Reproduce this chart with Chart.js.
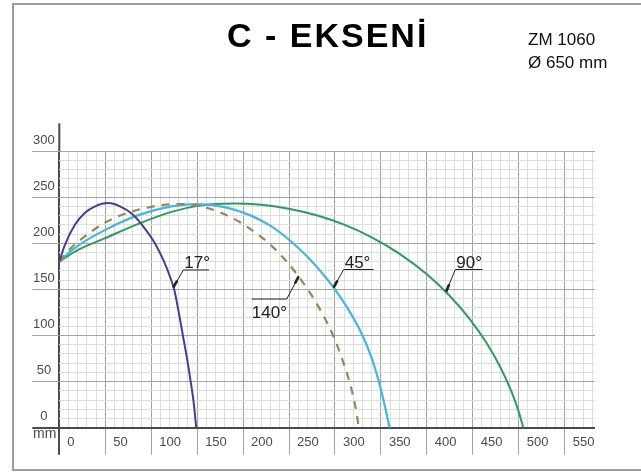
<!DOCTYPE html>
<html>
<head>
<meta charset="utf-8">
<script src="https://cdn.jsdelivr.net/npm/chart.js@4/dist/chart.umd.min.js"></script>
<style>
    html, body {
        margin: 0;
        padding: 0;
        background: #ffffff;
        overflow: hidden;
    }

    #wrap {
        position: relative;
        width: 641px;
        height: 473px;
        font-family: "Liberation Sans", Arial, sans-serif;
    }

    #frame {
        position: absolute;
        left: 12px;
        top: 3px;
        width: 700px;
        height: 468px;
        box-sizing: border-box;
        border: 2px solid #9d9d9d;
    }

    .txt {
        position: absolute;
        line-height: 1;
        white-space: nowrap;
        color: #111111;
    }

    #title {
        left: 227px;
        top: 18px;
        font-size: 34px;
        font-weight: bold;
        letter-spacing: 2px;
        color: #000000;
    }

    #model {
        left: 528px;
        top: 31px;
        font-size: 17px;
    }

    #diameter {
        left: 528px;
        top: 54px;
        font-size: 17px;
    }

    #unit {
        left: 33px;
        top: 426px;
        font-size: 14px;
        color: #4a4a4a;
    }

    canvas {
        position: absolute;
        left: 0;
        top: 0;
    }
</style>
</head>
<body>
<div id="wrap">
    <div id="frame"></div>
    <canvas id="reachChart" width="641" height="473"></canvas>
    <div class="txt" id="title">C - EKSENİ</div>
    <div class="txt" id="model">ZM 1060</div>
    <div class="txt" id="diameter">Ø 650 mm</div>
    <div class="txt" id="unit">mm</div>
</div>

<script>
// values (mm)

const angle17X =
    [0, 6, 17, 28, 39, 53, 66, 79, 90, 104, 114, 120, 125, 130, 134.5, 139, 143, 146.5, 149];

const angle17Y =
    [180, 198, 220, 233, 240, 243.5, 240, 232, 220, 200, 180, 165, 150, 125, 100, 75, 50, 25, 0];

const angle140X =
    [0, 13, 26, 50, 73, 100, 130, 160, 190, 210, 228, 245, 260, 271, 285, 298, 308, 316, 322, 326];

const angle140Y =
    [180, 195, 206, 222.5, 232.5, 239.5, 242.5, 238.5, 226.5, 214, 200, 183, 164.5, 149, 126, 100, 74, 49, 24, 0];

const angle45X =
    [0, 17, 50, 86, 122, 150, 180, 208, 230, 251, 270, 285, 300, 315, 330, 340, 347.5, 354, 359.5];

const angle45Y =
    [180, 195, 214.5, 230.5, 240, 242.5, 239.2, 230.2, 218.8, 203, 185.3, 168.8, 150, 127.5, 100, 75.5, 51, 25, 0];

const angle90X =
    [0, 17, 50, 86, 122, 151, 190, 220, 251, 280, 310, 340, 370, 400, 425, 445, 465, 480, 492, 500, 505];

const angle90Y =
    [180, 191, 205.5, 221, 234, 240.5, 243, 241.6, 237.2, 230.3, 220.1, 206.4, 188.7, 166.3, 142.8, 119.9, 91.8, 65.6, 39.3, 17.2, 0];

const tickStep = 50;

// leader lines for the angle labels, in data units
const leaderNotes = [
    { text: "17°", tip: [124, 152], elbow: [135, 171], end: [163, 171], below: false },
    { text: "45°", tip: [298.5, 152], elbow: [309.5, 171.5], end: [342, 171.5], below: false },
    { text: "90°", tip: [421, 147.5], elbow: [431, 171.5], end: [460.5, 171.5], below: false },
    { text: "140°", tip: [260.5, 164], elbow: [247.5, 139.5], end: [209.5, 139.5], below: true }
];


function toPoints(xs, ys) {

    return xs.map(
        function(x, i) {
            return { x: x, y: ys[i] };
        }
    );

}

function isMajor(value) {
    return value % tickStep === 0;
}

function gridColor(context) {

    if (!context.tick) {
        return "#dedede";
    }

    if (context.tick.value === 0) {
        return "#4a4a4a";
    }

    return isMajor(context.tick.value) ? "#a3a3a3" : "#dedede";

}

function gridWidth(context) {

    if (context.tick && context.tick.value === 0) {
        return 2;
    }

    return 1;

}

function tickMarkColor(context) {

    if (!context.tick) {
        return "transparent";
    }

    if (context.tick.value === 0) {
        return "#4a4a4a";
    }

    return isMajor(context.tick.value) ? "#a3a3a3" : "transparent";

}

function majorLabel(value) {
    return isMajor(value) ? String(value) : "";
}


const leaderPlugin = {

    id: "leaders",

    afterDatasetsDraw: function(chart) {

        const ctx = chart.ctx;
        const xs = chart.scales.x;
        const ys = chart.scales.y;

        ctx.save();

        // y axis runs a little above the grid
        ctx.strokeStyle = "#4a4a4a";
        ctx.lineWidth = 2;
        ctx.beginPath();
        ctx.moveTo(xs.getPixelForValue(0), ys.getPixelForValue(300));
        ctx.lineTo(xs.getPixelForValue(0), ys.getPixelForValue(330));
        ctx.stroke();

        leaderNotes.forEach(
            function(note) {

                const tx = xs.getPixelForValue(note.tip[0]);
                const ty = ys.getPixelForValue(note.tip[1]);
                const ex = xs.getPixelForValue(note.elbow[0]);
                const ey = ys.getPixelForValue(note.elbow[1]);
                const nx = xs.getPixelForValue(note.end[0]);
                const ny = ys.getPixelForValue(note.end[1]);

                ctx.strokeStyle = "#222222";
                ctx.lineWidth = 1;
                ctx.beginPath();
                ctx.moveTo(tx, ty);
                ctx.lineTo(ex, ey);
                ctx.lineTo(nx, ny);
                ctx.stroke();

                // short heavy pointer at the curve
                const len = Math.hypot(ex - tx, ey - ty);
                const ux = (ex - tx) / len;
                const uy = (ey - ty) / len;

                ctx.lineWidth = 2.6;
                ctx.beginPath();
                ctx.moveTo(tx, ty);
                ctx.lineTo(tx + ux * 8, ty + uy * 8);
                ctx.stroke();

                ctx.fillStyle = "#222222";
                ctx.font = "17px 'Liberation Sans', Arial, sans-serif";
                ctx.textAlign = "left";
                ctx.textBaseline = "alphabetic";

                if (note.below) {
                    ctx.fillText(note.text, Math.min(ex, nx), ey + 19);
                } else {
                    ctx.fillText(note.text, Math.min(ex, nx) + 1, ey - 2);
                }

            }
        );

        ctx.restore();

    }

};


const canvas =
    document.getElementById(
        "reachChart"
    );

window.reachChart =
    new Chart(
        canvas,
        {
            type: "line",

            data: {

                datasets: [
                    {
                        label: "17°",
                        data: toPoints(angle17X, angle17Y),
                        borderColor: "#4b3b8f",
                        borderWidth: 2
                    },
                    {
                        label: "140°",
                        data: toPoints(angle140X, angle140Y),
                        borderColor: "#9c8457",
                        borderWidth: 2.2,
                        borderDash: [8, 7]
                    },
                    {
                        label: "45°",
                        data: toPoints(angle45X, angle45Y),
                        borderColor: "#43b6e2",
                        borderWidth: 2.2
                    },
                    {
                        label: "90°",
                        data: toPoints(angle90X, angle90Y),
                        borderColor: "#2f9a60",
                        borderWidth: 2
                    }
                ]
            },

            options: {

                responsive: false,
                animation: false,
                devicePixelRatio: 1,

                layout: {
                    padding: {
                        left: 32.3,
                        right: 46,
                        top: 151,
                        bottom: 18.3
                    }
                },

                elements: {
                    point: { radius: 0 },
                    line: {
                        fill: false,
                        cubicInterpolationMode: "monotone"
                    }
                },

                plugins: {
                    legend: { display: false },
                    tooltip: { enabled: false },
                    title: { display: false }
                },

                scales: {

                    x: {
                        type: "linear",
                        min: 0,
                        max: 583,
                        afterFit: function(scale) {
                            scale.height = 27;
                        },
                        border: { display: false },
                        grid: {
                            color: gridColor,
                            lineWidth: gridWidth,
                            tickColor: tickMarkColor,
                            tickWidth: gridWidth,
                            tickLength: 27,
                            drawTicks: true
                        },
                        ticks: {
                            stepSize: 10,
                            includeBounds: false,
                            autoSkip: false,
                            maxRotation: 0,
                            align: "start",
                            labelOffset: 8,
                            padding: -20.5,
                            color: "#4a4a4a",
                            font: {
                                family: "'Liberation Sans', Arial, sans-serif",
                                size: 13
                            },
                            callback: majorLabel
                        }
                    },

                    y: {
                        type: "linear",
                        min: 0,
                        max: 300,
                        afterFit: function(scale) {
                            scale.width = 27;
                        },
                        border: { display: false },
                        grid: {
                            color: gridColor,
                            lineWidth: gridWidth,
                            tickColor: tickMarkColor,
                            tickWidth: gridWidth,
                            tickLength: 27,
                            drawTicks: true
                        },
                        ticks: {
                            stepSize: 10,
                            autoSkip: false,
                            crossAlign: "center",
                            labelOffset: -11,
                            padding: -22.5,
                            color: "#4a4a4a",
                            font: {
                                family: "'Liberation Sans', Arial, sans-serif",
                                size: 13
                            },
                            callback: majorLabel
                        }
                    }
                }
            },

            plugins: [leaderPlugin]
        }
    );
</script>
</body>
</html>
